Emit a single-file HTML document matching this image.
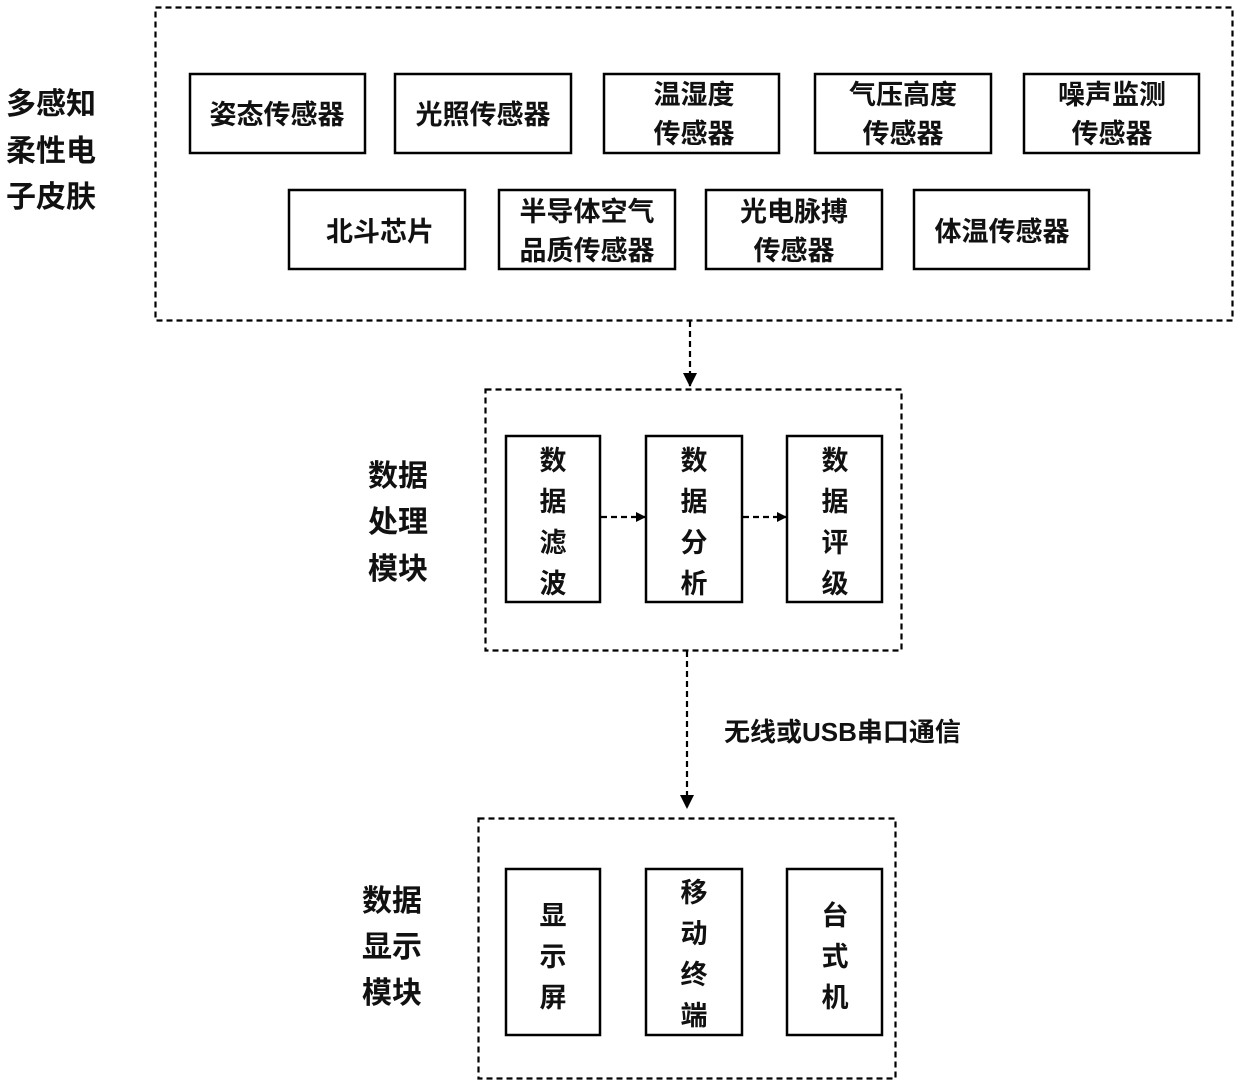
<!DOCTYPE html>
<html><head><meta charset="utf-8"><style>
html,body{margin:0;padding:0;background:#fff;width:1240px;height:1084px;overflow:hidden}
text{font-family:"Liberation Sans","Noto Sans CJK SC",sans-serif;font-weight:bold;fill:#111}
</style></head><body>
<svg width="1240" height="1084" viewBox="0 0 1240 1084" xmlns="http://www.w3.org/2000/svg">
<defs><marker id="ah" markerWidth="10" markerHeight="10" refX="9" refY="5" orient="auto" markerUnits="userSpaceOnUse">
<path d="M0,0 L10,5 L0,10 z" fill="#000"/></marker>
<marker id="av" markerWidth="14" markerHeight="14" refX="13" refY="7" orient="auto" markerUnits="userSpaceOnUse">
<path d="M0,0 L14,7 L0,14 z" fill="#000"/></marker></defs>
<g fill="none" stroke="#000" stroke-width="2.2" stroke-dasharray="6,4">
<rect x="155.5" y="7.5" width="1077" height="313"/>
<rect x="485.5" y="389.5" width="416" height="261"/>
<rect x="478.5" y="818.5" width="417" height="260"/>
<line x1="690" y1="321" x2="690" y2="386" marker-end="url(#av)"/>
<line x1="687" y1="651" x2="687" y2="808" marker-end="url(#av)"/>
<line x1="601" y1="517" x2="645" y2="517" marker-end="url(#ah)"/>
<line x1="743" y1="517" x2="786" y2="517" marker-end="url(#ah)"/>
</g>
<g fill="none" stroke="#000" stroke-width="2.5">
<rect x="190" y="74" width="175" height="79"/>
<rect x="395" y="74" width="176" height="79"/>
<rect x="604" y="74" width="175" height="79"/>
<rect x="815" y="74" width="176" height="79"/>
<rect x="1024" y="74" width="175" height="79"/>
<rect x="289" y="190" width="176" height="79"/>
<rect x="499" y="190" width="176" height="79"/>
<rect x="706" y="190" width="176" height="79"/>
<rect x="914" y="190" width="175" height="79"/>
<rect x="506" y="436" width="94" height="166"/>
<rect x="646" y="436" width="96" height="166"/>
<rect x="787" y="436" width="95" height="166"/>
<rect x="506" y="869" width="94" height="166"/>
<rect x="646" y="869" width="96" height="166"/>
<rect x="787" y="869" width="95" height="166"/>
</g>
<g font-size="27" text-anchor="middle">
<text x="277" y="124">姿态传感器</text>
<text x="483" y="124">光照传感器</text>
<text x="694" y="104">温湿度</text><text x="694" y="143">传感器</text>
<text x="903" y="104">气压高度</text><text x="903" y="143">传感器</text>
<text x="1112" y="104">噪声监测</text><text x="1112" y="143">传感器</text>
<text x="380" y="241">北斗芯片</text>
<text x="587" y="221">半导体空气</text><text x="587" y="260">品质传感器</text>
<text x="794" y="221">光电脉搏</text><text x="794" y="260">传感器</text>
<text x="1002" y="241">体温传感器</text>
<text x="553" y="470">数</text><text x="553" y="511">据</text><text x="553" y="552">滤</text><text x="553" y="593">波</text>
<text x="694" y="470">数</text><text x="694" y="511">据</text><text x="694" y="552">分</text><text x="694" y="593">析</text>
<text x="835" y="470">数</text><text x="835" y="511">据</text><text x="835" y="552">评</text><text x="835" y="593">级</text>
<text x="553" y="925">显</text><text x="553" y="966">示</text><text x="553" y="1007">屏</text>
<text x="694" y="902">移</text><text x="694" y="943">动</text><text x="694" y="984">终</text><text x="694" y="1025">端</text>
<text x="835" y="925">台</text><text x="835" y="966">式</text><text x="835" y="1007">机</text>
</g>
<g font-size="30">
<text x="6" y="114">多感知</text><text x="6" y="161">柔性电</text><text x="6" y="207">子皮肤</text>
<text x="368" y="486">数据</text><text x="368" y="532">处理</text><text x="368" y="579">模块</text>
<text x="362" y="911">数据</text><text x="362" y="957">显示</text><text x="362" y="1003">模块</text>
</g>
<text x="724" y="741" font-size="26">无线或USB串口通信</text>
</svg>
</body></html>
